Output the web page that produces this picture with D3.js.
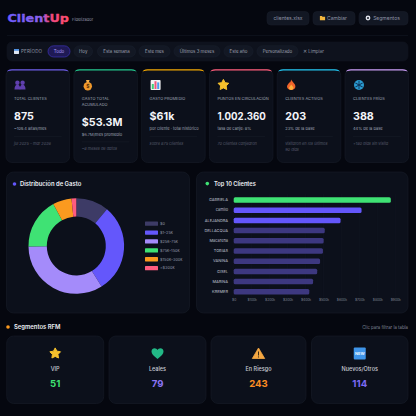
<!DOCTYPE html>
<html>
<head>
<meta charset="utf-8">
<script src="https://cdn.jsdelivr.net/npm/d3@7"></script>
<style>
  html, body { margin: 0; padding: 0; background: #05070f; }
  svg { display: block; font-family: Inter, "Noto Sans", sans-serif; }
</style>
</head>
<body>
<svg id="chart" width="416" height="416"></svg>
<script>
// ---- data ----
const periodLabels = ['Todo', 'Hoy', 'Esta semana', 'Este mes', 'Últimos 3 meses', 'Este año', 'Personalizado'];
const headerButtons = ['clientes.xlsx', 'Cambiar', 'Segmentos'];

const kpiIcons = ['people', 'money', 'bars', 'star', 'fire', 'snow'];
const kpiTitles = [['TOTAL CLIENTES'], ['GASTO TOTAL', 'ACUMULADO'], ['GASTO PROMEDIO'], ['PUNTOS EN CIRCULACIÓN'], ['CLIENTES ACTIVOS'], ['CLIENTES FRÍOS']];
const kpiValues = ['875', '$53.3M', '$61k', '1.002.360', '203', '388'];
const kpiSubs = ['~109.4 altas/mes', '$6.7M/mes promedio', 'por cliente · total histórico', 'tasa de canje: 8%', '23% de la base', '44% de la base'];
const kpiNotes = [['jul 2025 – mar 2026'], ['~8 meses de datos'], ['sobre 875 clientes'], ['70 clientes canjearon'], ['visitaron en los últimos', '90 días'], ['+180 días sin visita']];
const kpiAccents = ['#6c5ce7', '#22c58b', '#f0a500', '#ff5c7a', '#22c5f0', '#c79bf2'];

const gastoLabels = ['$0', '$1–25k', '$25k–75k', '$75k–150k', '$150k–300k', '>$300k'];
const gastoCounts = [97, 263, 295, 150, 56, 14];
const gastoColors = ['#3d3b66', '#6457fb', '#a48bfa', '#3fe274', '#fb9a1f', '#ff5c7f'];

const topNames = ['GABRIELA', 'camilo', 'ALEJANDRA', 'DELLACQUA', 'Macarena', 'TOBIAS', 'VANINA', 'GISEL', 'MARINA', 'KREMER'];
const topGasto = [875000, 712000, 595000, 507000, 501000, 497000, 481000, 465000, 442000, 421000];
const topTicks = [0, 100000, 200000, 300000, 400000, 500000, 600000, 700000, 800000, 900000];

const rfmLabels = ['VIP', 'Leales', 'En Riesgo', 'Nuevos/Otros'];
const rfmCounts = [51, 79, 243, 114];
const rfmIcons = ['star', 'heart', 'warn', 'new'];
const rfmColors = ['#3fe274', '#8b74f5', '#fb8c23', '#7c6af5'];

const BG = '#05070f', CARD = '#0c101b', BORDER = '#171c29', PILL = '#121723';
const TXT = '#eef0f6', DIM = '#9095a6', FAINT = '#565b6c';

const svg = d3.select('#chart');
svg.append('rect').attr('width', 416).attr('height', 416).attr('fill', BG);

const defs = svg.append('defs');
const logoGrad = defs.append('linearGradient').attr('id', 'logoGrad');
logoGrad.append('stop').attr('offset', '0%').attr('stop-color', '#6c5cff');
logoGrad.append('stop').attr('offset', '55%').attr('stop-color', '#8c62f0');
logoGrad.append('stop').attr('offset', '68%').attr('stop-color', '#f0487f');
logoGrad.append('stop').attr('offset', '100%').attr('stop-color', '#ff4d6d');

function label(g, x, y, text, size, fill, opts = {}) {
    return g.append('text')
        .attr('x', x).attr('y', y)
        .attr('font-size', size)
        .attr('fill', fill)
        .attr('text-anchor', opts.anchor || 'start')
        .attr('font-weight', opts.weight || 400)
        .attr('font-style', opts.italic ? 'italic' : 'normal')
        .attr('letter-spacing', opts.spacing || 0)
        .text(text);
}

function box(g, x, y, w, h, r, fill, stroke) {
    return g.append('rect')
        .attr('x', x).attr('y', y).attr('width', w).attr('height', h).attr('rx', r)
        .attr('fill', fill).attr('stroke', stroke || 'none').attr('stroke-width', 0.6);
}

// small icons, drawn because no emoji font is available
function starPath(r) {
    const pts = d3.range(10).map(i => {
        const a = i * Math.PI / 5, rad = i % 2 ? r * 0.52 : r;
        return [rad * Math.sin(a), -rad * Math.cos(a)];
    });
    return d3.line().curve(d3.curveLinearClosed)(pts);
}

function icon(g, name, cx, cy, s) {
    const i = g.append('g').attr('transform', `translate(${cx},${cy}) scale(${s})`);
    if (name === 'star') {
        i.append('path').attr('d', starPath(5.6)).attr('fill', '#f5c02c').attr('stroke', '#f5c02c').attr('stroke-width', 1).attr('stroke-linejoin', 'round');
    } else if (name === 'people') {
        i.append('circle').attr('cx', -2.6).attr('cy', -2.3).attr('r', 2.2).attr('fill', '#5f3fae');
        i.append('circle').attr('cx', 2.6).attr('cy', -2.3).attr('r', 2.2).attr('fill', '#5f3fae');
        i.append('path').attr('d', 'M-5.5,4.5 Q-5.5,-0.2 -2.6,-0.2 Q0.3,-0.2 0.3,4.5Z').attr('fill', '#5f3fae');
        i.append('path').attr('d', 'M-0.3,4.5 Q-0.3,-0.2 2.6,-0.2 Q5.5,-0.2 5.5,4.5Z').attr('fill', '#5f3fae');
    } else if (name === 'money') {
        i.append('circle').attr('cy', 1.2).attr('r', 4.2).attr('fill', '#f0992c');
        i.append('path').attr('d', 'M-1.8,-5 L1.8,-5 L1,-2.5 L-1,-2.5Z').attr('fill', '#f5b04a');
        i.append('text').attr('y', 3).attr('text-anchor', 'middle').attr('font-size', 5).attr('font-weight', 700).attr('fill', '#5a3208').text('$');
    } else if (name === 'bars') {
        i.append('rect').attr('x', -5).attr('y', -5).attr('width', 10).attr('height', 10).attr('rx', 0.8).attr('fill', '#f2f2f4');
        i.append('rect').attr('x', -3.8).attr('y', -1).attr('width', 2).attr('height', 5).attr('fill', '#3fd07a');
        i.append('rect').attr('x', -1.1).attr('y', -3.8).attr('width', 2).attr('height', 7.8).attr('fill', '#f0567f');
        i.append('rect').attr('x', 1.6).attr('y', -2.6).attr('width', 2).attr('height', 6.6).attr('fill', '#4a9cf0');
    } else if (name === 'fire') {
        i.append('path').attr('d', 'M0,-5.6 C1,-3 4.2,-1.6 4.2,1.6 C4.2,4 2.3,5 0,5 C-2.3,5 -4.2,4 -4.2,1.6 C-4.2,-0.5 -2.6,-1 -2,-2.6 C-1,-2 -0.6,-3.6 0,-5.6Z').attr('fill', '#f0642a');
        i.append('path').attr('d', 'M0,-0.6 C0.8,0.8 2.2,1.4 2.2,3 C2.2,4.2 1,5 0,5 C-1,5 -2.2,4.2 -2.2,3 C-2.2,1.6 -0.6,1 0,-0.6Z').attr('fill', '#fbb03b');
    } else if (name === 'snow') {
        i.append('circle').attr('r', 5).attr('fill', '#2a9bd0');
        d3.range(3).forEach(k => {
            i.append('line').attr('y1', -4.2).attr('y2', 4.2).attr('stroke', '#0d2f52').attr('stroke-width', 0.9)
                .attr('transform', `rotate(${k * 60})`);
        });
    } else if (name === 'heart') {
        i.append('path').attr('d', 'M0,5.4 C-4,2.4 -6,0.4 -6,-2 C-6,-4.2 -4.4,-5.2 -3,-5.2 C-1.6,-5.2 -0.6,-4.4 0,-3.4 C0.6,-4.4 1.6,-5.2 3,-5.2 C4.4,-5.2 6,-4.2 6,-2 C6,0.4 4,2.4 0,5.4Z').attr('fill', '#22b886');
    } else if (name === 'warn') {
        i.append('path').attr('d', 'M0,-5.5 L6.2,5 L-6.2,5Z').attr('fill', '#f5a742').attr('stroke', '#f5a742').attr('stroke-width', 0.8).attr('stroke-linejoin', 'round');
        i.append('rect').attr('x', -0.5).attr('y', -2).attr('width', 1).attr('height', 4).attr('fill', '#3b2a12');
        i.append('circle').attr('cy', 3.4).attr('r', 0.6).attr('fill', '#3b2a12');
    } else if (name === 'new') {
        i.append('rect').attr('x', -6).attr('y', -6).attr('width', 12).attr('height', 12).attr('rx', 1).attr('fill', '#3f95ea');
        i.append('text').attr('y', 1.5).attr('text-anchor', 'middle').attr('font-size', 4).attr('font-weight', 700).attr('fill', '#eaf4ff').text('NEW');
    } else if (name === 'calendar') {
        i.append('rect').attr('x', -2.5).attr('y', -2.5).attr('width', 5).attr('height', 5).attr('rx', 0.4).attr('fill', '#dfe6f2');
        i.append('rect').attr('x', -2.5).attr('y', -2.5).attr('width', 5).attr('height', 1.8).attr('fill', '#4f90e0');
    } else if (name === 'folder') {
        i.append('path').attr('d', 'M-2.6,-2 L-0.6,-2 L0,-1.2 L2.6,-1.2 L2.6,2.2 L-2.6,2.2Z').attr('fill', '#f3b73e');
    } else if (name === 'gear') {
        i.append('circle').attr('r', 1.7).attr('fill', 'none').attr('stroke', '#dfe2ea').attr('stroke-width', 1.4);
    }
}

// ---- header ----
const header = svg.append('g');
label(header, 7.5, 22, 'ClientUp', 11, 'url(#logoGrad)', { weight: 800 })
    .attr('font-family', '"DejaVu Sans"')
    .attr('textLength', 61.5).attr('lengthAdjust', 'spacingAndGlyphs')
    .attr('stroke', 'url(#logoGrad)').attr('stroke-width', 0.35);
label(header, 72, 21, 'Fidelizador', 4.1, DIM);

const btnX = d3.scaleOrdinal().domain(headerButtons).range([267, 313, 359]);
const btnW = d3.scaleOrdinal().domain(headerButtons).range([42, 42, 49]);
headerButtons.forEach((b, i) => {
    box(header, btnX(b), 11.5, btnW(b), 13.5, 4, PILL, BORDER);
    const tx = i === 0 ? btnX(b) + btnW(b) / 2 : btnX(b) + btnW(b) / 2 + 3;
    label(header, tx, 20, b, 5, DIM, { anchor: 'middle' });
});
icon(header, 'folder', 322.5, 18, 1);
icon(header, 'gear', 368, 18, 1);
header.append('line').attr('x1', 7).attr('x2', 408).attr('y1', 35.5).attr('y2', 35.5).attr('stroke', '#10141f').attr('stroke-width', 0.7);

// ---- period filter ----
const bar = svg.append('g');
box(bar, 7, 42, 401, 19, 5, '#0e121d', '#10141f');
icon(bar, 'calendar', 16.5, 51.5, 1);
label(bar, 21, 53.2, 'PERÍODO', 4.6, DIM, { spacing: 0.15 });

const pillX = d3.scaleOrdinal().domain(periodLabels).range([48, 74, 97.5, 139, 174, 224, 257]);
const pillW = d3.scaleOrdinal().domain(periodLabels).range([22, 18.5, 38, 31, 46, 29, 41]);
periodLabels.forEach((p, i) => {
    const active = i === 0;
    box(bar, pillX(p), 45.8, pillW(p), 11.2, 5.6, active ? '#1f1a56' : '#131824', active ? '#4338ca' : '#1a202e');
    label(bar, pillX(p) + pillW(p) / 2, 53.2, p, 4.4, active ? '#a99bf7' : '#a0a4b4', { anchor: 'middle' });
});
label(bar, 303, 53.2, '✕ Limpiar', 4.5, DIM);

// ---- KPI cards ----
const kpiX = d3.scaleBand().domain(d3.range(kpiValues.length)).range([6, 408.6]).paddingInner(0.062);
kpiValues.forEach((v, i) => {
    const x = kpiX(i), w = kpiX.bandwidth(), pad = 8;
    const g = svg.append('g');
    box(g, x, 69.5, w, 93, 6, CARD, BORDER);
    // coloured strip on the card's top edge
    g.append('path')
        .attr('d', `M${x + 1},72 Q${x + 1.5},69.3 ${x + 6},69.3 L${x + w - 6},69.3 Q${x + w - 1.5},69.3 ${x + w - 1},72 Q${x + w - 2},70.5 ${x + w - 6},70.5 L${x + 6},70.5 Q${x + 2},70.5 ${x + 1},72Z`)
        .attr('fill', kpiAccents[i]);
    icon(g, kpiIcons[i], x + 14, 85, 1);
    let y = 100.2;
    kpiTitles[i].forEach((t, k) => {
        label(g, x + pad, y + k * 6.2, t, 3.9, '#9ea3b3', { spacing: 0.05 });
    });
    y += (kpiTitles[i].length - 1) * 5.4;
    label(g, x + pad, y + 20, v, v.length > 6 ? 9.7 : 10.7, '#f4f5f9', { weight: 700 });
    label(g, x + pad, y + 30, kpiSubs[i], 4, '#9ea3b3');
    g.append('line').attr('x1', x + pad).attr('x2', x + w - pad).attr('y1', y + 36.2).attr('y2', y + 36.2).attr('stroke', '#171c29').attr('stroke-width', 0.6);
    kpiNotes[i].forEach((n, k) => {
        label(g, x + pad, y + 44.5 + k * 6.3, n, 3.9, FAINT, { italic: true });
    });
});

// ---- donut ----
const donutCard = svg.append('g');
box(donutCard, 6.5, 172, 183, 141, 7, CARD, BORDER);
donutCard.append('circle').attr('cx', 14.5).attr('cy', 184).attr('r', 1.8).attr('fill', '#6457fb');
label(donutCard, 20, 186, 'Distribución de Gasto', 5.9, TXT, { weight: 600 });

const pie = d3.pie().sort(null)(gastoCounts);
const arc = d3.arc().innerRadius(29.5).outerRadius(47.8);
donutCard.append('g').attr('transform', 'translate(76.3,246)')
    .selectAll('path').data(pie).join('path')
    .attr('d', arc)
    .attr('fill', (d, i) => gastoColors[i]);

const legendY = d3.scalePoint().domain(gastoLabels).range([223.5, 268]);
gastoLabels.forEach((l, i) => {
    box(donutCard, 145, legendY(l) - 2, 13, 4.3, 0.6, gastoColors[i]);
    label(donutCard, 160, legendY(l) + 1.4, l, 3.9, '#8d92a3');
});

// ---- top 10 ----
const topCard = svg.append('g');
box(topCard, 196.5, 172, 211.5, 141, 7, CARD, BORDER);
topCard.append('circle').attr('cx', 207.3).attr('cy', 183.6).attr('r', 1.8).attr('fill', '#3fe274');
label(topCard, 214, 185.8, 'Top 10 Clientes', 5.7, TXT, { weight: 600 });

const x = d3.scaleLinear().domain([0, 900000]).range([233.7, 395.3]);
const y = d3.scaleBand().domain(topNames).range([194.9, 296.9]).paddingInner(0.46).paddingOuter(0.23);

topCard.append('g').selectAll('line').data(topTicks).join('line')
    .attr('x1', d => x(d)).attr('x2', d => x(d))
    .attr('y1', 194).attr('y2', 297)
    .attr('stroke', '#131723').attr('stroke-width', 0.5);

topCard.append('g').selectAll('rect').data(topGasto).join('rect')
    .attr('x', x(0))
    .attr('y', (d, i) => y(topNames[i]))
    .attr('width', d => x(d) - x(0))
    .attr('height', y.bandwidth())
    .attr('rx', 1.5)
    .attr('fill', (d, i) => i === 0 ? '#3fe274' : i < 3 ? '#6457fb' : '#3d3880');

const yAxis = d3.axisLeft(y).tickSize(0).tickPadding(0);
topCard.append('g')
    .attr('transform', 'translate(228,0)')
    .call(yAxis)
    .call(g => g.select('.domain').remove())
    .selectAll('text').attr('font-size', 3.9).attr('font-family', 'Inter').attr('fill', '#a5a9b8').attr('font-weight', 500);

const xAxis = d3.axisBottom(x).tickValues(topTicks).tickSize(0).tickPadding(0)
    .tickFormat(d => d === 0 ? '$0' : `$${d / 1000}k`);
topCard.append('g')
    .attr('transform', 'translate(0,298.5)')
    .call(xAxis)
    .call(g => g.select('.domain').remove())
    .selectAll('text').attr('font-size', 3.3).attr('font-family', 'Inter').attr('fill', '#7f8494');

// ---- RFM ----
const rfm = svg.append('g');
rfm.append('circle').attr('cx', 8).attr('cy', 327).attr('r', 1.8).attr('fill', '#fb9a1f');
label(rfm, 14, 329, 'Segmentos RFM', 5.9, TXT, { weight: 600 });
label(rfm, 408, 329, 'Clic para filtrar la tabla', 4.3, '#7f8494', { anchor: 'end' });

const rfmX = d3.scaleOrdinal().domain(rfmLabels).range([6.7, 109, 211, 311.5]);
const rfmW = d3.scaleOrdinal().domain(rfmLabels).range([97, 97, 95, 96.5]);
rfmLabels.forEach((l, i) => {
    const cx = rfmX(l) + rfmW(l) / 2;
    box(rfm, rfmX(l), 336, rfmW(l), 67.5, 7, CARD, BORDER);
    icon(rfm, rfmIcons[i], cx, 353.5, 1);
    label(rfm, cx, 370.5, l, 5.5, '#c9ccd6', { anchor: 'middle', weight: 500 });
    label(rfm, cx, 387, rfmCounts[i], 9.6, rfmColors[i], { anchor: 'middle', weight: 700 });
});
</script>
</body>
</html>
